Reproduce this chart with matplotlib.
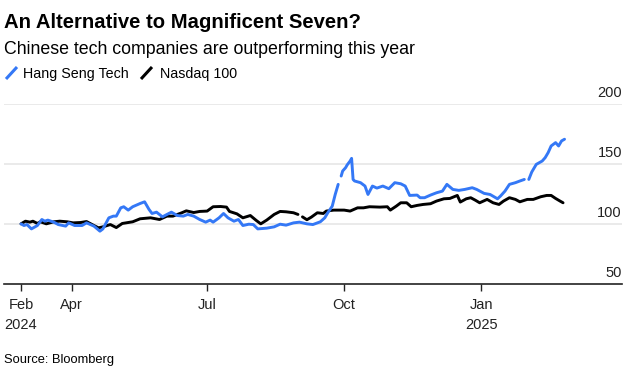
import numpy as np
import pandas as pd
import matplotlib.pyplot as plt
from matplotlib.lines import Line2D

plt.rcParams['font.family'] = ['Liberation Sans', 'DejaVu Sans']

# Both series rebased to 100 on 27 Feb 2024; x given as days since then
start = pd.Timestamp('2024-02-27')

hst_days = [0, 2, 4, 7, 11, 14, 16, 18, 22, 25, 30, 32, 36, 41, 44, 49, 53, 55, 59, 62,
            64, 67, 69, 72, 75, 80, 83, 86, 88, 91, 95, 98, 101, 105, 109, 112, 116, 120,
            124, 127, 129, 133, 136, 139, 143, 146, 149, 153, 156, 159, 165, 170, 174, 178,
            183, 187, 192, 196, 201, 204, 206, 209, 211, 213, 214, 215, 216, 218, 219, 221,
            222, 223, 224, 228, 231, 233, 236, 239, 243, 247, 251, 255, 258, 261, 266, 268,
            271, 275, 279, 283, 286, 290, 294, 298, 303, 306, 311, 315, 320, 322, 325, 328,
            332, 335, 338, 339, 341, 343, 346, 350, 352, 354, 356, 359, 361, 363, 365]
hst_vals = [100.0, 98.6, 99.4, 95.8, 98.6, 103.6, 102.2, 103.1, 101.4, 99.4, 98.1, 100.8,
            98.6, 98.6, 100.8, 98.1, 93.9, 95.8, 105.0, 106.4, 106.4, 113.3, 114.2, 111.4,
            114.2, 116.9, 118.3, 111.9, 108.6, 109.7, 105.8, 107.8, 109.7, 106.9, 106.4,
            107.8, 106.4, 103.6, 101.4, 103.1, 101.4, 105.0, 108.6, 105.0, 102.2, 103.6,
            98.6, 99.7, 99.4, 95.8, 96.4, 97.5, 99.7, 98.9, 100.8, 101.4, 100.0, 99.4, 101.7,
            105.0, 109.2, 114.7, 124.4, 132.8, np.nan, 139.7, 143.9, 146.7, 148.9, 152.2,
            154.4, 136.9, 135.6, 134.2, 131.4, 124.4, 131.4, 129.7, 131.4, 129.2, 134.2,
            133.3, 131.4, 123.6, 123.9, 121.7, 121.7, 123.9, 125.8, 127.2, 132.8, 128.6,
            127.8, 128.6, 130.0, 128.6, 125.3, 124.4, 120.8, 123.1, 127.2, 132.8, 134.2,
            135.6, 136.9, np.nan, 136.9, 143.1, 149.4, 152.2, 155.0, 159.2, 164.7, 167.5,
            164.7, 168.9, 170.3]

ndx_days = [0, 3, 6, 8, 11, 13, 17, 22, 26, 31, 35, 40, 44, 49, 52, 55, 60, 64, 68, 75,
            80, 87, 93, 98, 102, 108, 111, 116, 120, 125, 129, 134, 138, 140, 145, 149, 154,
            158, 161, 165, 170, 174, 178, 183, 186, 187, 189, 192, 195, 199, 203, 205, 210,
            217, 221, 226, 230, 234, 241, 246, 248, 252, 255, 259, 262, 266, 270, 275, 279,
            284, 288, 293, 295, 299, 302, 305, 308, 313, 317, 321, 324, 328, 332, 335, 340,
            344, 349, 353, 356, 359, 362, 364]
ndx_vals = [100.0, 102.2, 101.4, 102.2, 100.3, 101.7, 100.0, 101.7, 102.2, 101.7, 100.8,
            101.1, 101.9, 98.6, 96.7, 97.5, 99.4, 96.9, 100.3, 101.7, 104.2, 105.0, 103.6,
            106.4, 106.4, 109.2, 110.8, 109.4, 110.3, 110.6, 114.2, 114.4, 113.9, 110.3,
            108.3, 105.0, 106.9, 102.8, 100.0, 103.1, 107.8, 110.3, 110.0, 109.2, 107.8,
            np.nan, 105.8, 103.4, 105.6, 109.2, 108.6, 110.6, 111.4, 111.4, 110.6, 113.3,
            113.3, 114.2, 113.9, 114.2, 111.4, 114.7, 117.5, 117.5, 114.2, 115.3, 116.1,
            116.7, 118.9, 120.8, 121.1, 123.6, 118.1, 120.8, 121.7, 119.7, 117.5, 120.3,
            117.5, 116.1, 118.9, 121.7, 120.3, 118.3, 120.3, 120.3, 122.5, 123.6, 123.6,
            121.1, 118.9, 117.5]

tick_dates = ['2024-02-27', '2024-04-01', '2024-07-01', '2024-10-01', '2025-01-01']
tick_labels = ['Feb\n2024', 'Apr', 'Jul', 'Oct', 'Jan\n2025']
y_ticks = [50, 100, 150, 200]

blue = '#3478f6'
W, H = 632, 376

hst_x = start + pd.to_timedelta(hst_days, unit='D')
ndx_x = start + pd.to_timedelta(ndx_days, unit='D')

fig = plt.figure(figsize=(W / 100, H / 100), dpi=100)
ax = fig.add_axes([4 / W, 1 - 284 / H, 618 / W, (284 - 103.5) / H])

ax.plot(ndx_x, ndx_vals, color='black', lw=2.1, solid_capstyle='round', zorder=3)
ax.plot(hst_x, hst_vals, color=blue, lw=2.1, solid_capstyle='round', zorder=3)

ax.set_ylim(50, 200)
ax.set_xlim(pd.Timestamp('2024-02-15 14:00'), pd.Timestamp('2025-04-05 14:00'))

# gridlines and right-side labels sitting above them
for v in y_ticks[1:]:
    ax.axhline(v, color='#e8e8e8', lw=1.3, zorder=1)
for v in y_ticks:
    ax.annotate(str(v), xy=(1, v), xycoords=('axes fraction', 'data'),
                xytext=(0, 5), textcoords='offset points',
                ha='right', va='baseline', fontsize=10.5, color='#222222')
ax.set_yticks([])

for s in ['top', 'right', 'left']:
    ax.spines[s].set_visible(False)
ax.spines['bottom'].set_color('#222222')
ax.spines['bottom'].set_linewidth(1.2)

ax.set_xticks(pd.to_datetime(tick_dates))
ax.set_xticklabels(tick_labels, fontsize=10.5, color='#222222', linespacing=1.55)
ax.tick_params(axis='x', length=5, width=1, color='#222222', pad=5)

fig.text(4 / W, 1 - 28 / H, 'An Alternative to Magnificent Seven?', fontsize=14.6,
         fontweight='bold', va='baseline')
fig.text(4 / W, 1 - 54 / H, 'Chinese tech companies are outperforming this year',
         fontsize=12.8, va='baseline')

# legend with slanted line keys
fig.add_artist(Line2D([6 / W, 17 / W], [1 - 79 / H, 1 - 67 / H], color=blue, lw=2.2,
                      solid_capstyle='butt'))
fig.text(23 / W, 1 - 78 / H, 'Hang Seng Tech', fontsize=10.3, va='baseline')
fig.add_artist(Line2D([141 / W, 152 / W], [1 - 79 / H, 1 - 67 / H], color='black', lw=2.2,
                      solid_capstyle='butt'))
fig.text(160 / W, 1 - 78 / H, 'Nasdaq 100', fontsize=10.3, va='baseline')

fig.text(4 / W, 1 - 363 / H, 'Source: Bloomberg', fontsize=9.3, va='baseline')

fig.savefig('out.png', dpi=100)
